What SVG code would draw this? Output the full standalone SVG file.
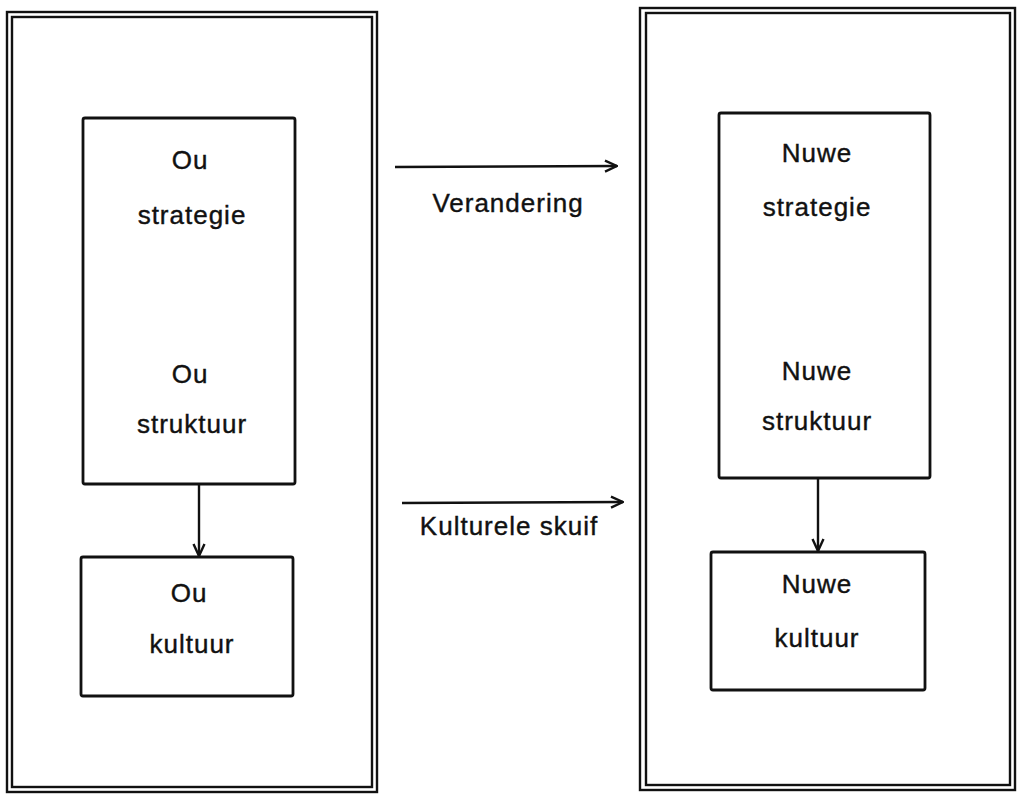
<svg xmlns="http://www.w3.org/2000/svg" width="1017" height="794" viewBox="0 0 1017 794">
  <defs>
    <marker id="open-head" viewBox="0 0 14 14" refX="13" refY="7" markerWidth="14" markerHeight="14" markerUnits="userSpaceOnUse" orient="auto">
      <path d="M1,1.5 L13,7 L1,12.5" fill="none" stroke="#111" stroke-width="2.4"/>
    </marker>
  </defs>
  <style>
    .frame { fill: none; stroke: #111; stroke-width: 2.4; }
    .box { fill: none; stroke: #111; stroke-width: 2.8; }
    .label { font-family: "Liberation Sans", Arial, sans-serif; font-size: 26px; fill: #111; stroke: #111; stroke-width: 0.4; text-anchor: middle; letter-spacing: 1px; }
    .link { fill: none; stroke: #111; stroke-width: 2.4; marker-end: url(#open-head); }
  </style>
  <rect width="1017" height="794" fill="#fff"/>

  <!-- left panel: old situation -->
  <g id="panel-old">
    <rect class="frame" x="7" y="12" width="370" height="780"/>
    <rect class="frame" x="12" y="17" width="360" height="770"/>
  </g>
  <g id="old-strategy-structure">
    <rect class="box" x="83" y="118" width="212" height="366" rx="2"/>
    <text class="label" x="190" y="169">Ou</text>
    <text class="label" x="192" y="224">strategie</text>
    <text class="label" x="190" y="383">Ou</text>
    <text class="label" x="192" y="433">struktuur</text>
  </g>
  <g id="old-culture">
    <rect class="box" x="81" y="557" width="212" height="139" rx="2"/>
    <text class="label" x="189" y="602">Ou</text>
    <text class="label" x="192" y="653">kultuur</text>
  </g>

  <!-- right panel: new situation -->
  <g id="panel-new">
    <rect class="frame" x="640" y="8" width="375" height="782"/>
    <rect class="frame" x="646" y="13" width="364" height="772"/>
  </g>
  <g id="new-strategy-structure">
    <rect class="box" x="719" y="113" width="211" height="365" rx="2"/>
    <text class="label" x="817" y="162">Nuwe</text>
    <text class="label" x="817" y="216">strategie</text>
    <text class="label" x="817" y="380">Nuwe</text>
    <text class="label" x="817" y="430">struktuur</text>
  </g>
  <g id="new-culture">
    <rect class="box" x="711" y="552" width="214" height="138" rx="2"/>
    <text class="label" x="817" y="593">Nuwe</text>
    <text class="label" x="817" y="647">kultuur</text>
  </g>

  <!-- connectors -->
  <g id="connectors">
    <line class="link" x1="199" y1="484" x2="199" y2="556"/>
    <line class="link" x1="818" y1="478" x2="818" y2="551"/>
    <line class="link" x1="395" y1="167" x2="617" y2="166"/>
    <line class="link" x1="402" y1="503" x2="623" y2="502"/>
    <text class="label" x="508" y="212">Verandering</text>
    <text class="label" x="509" y="535">Kulturele skuif</text>
  </g>
</svg>
